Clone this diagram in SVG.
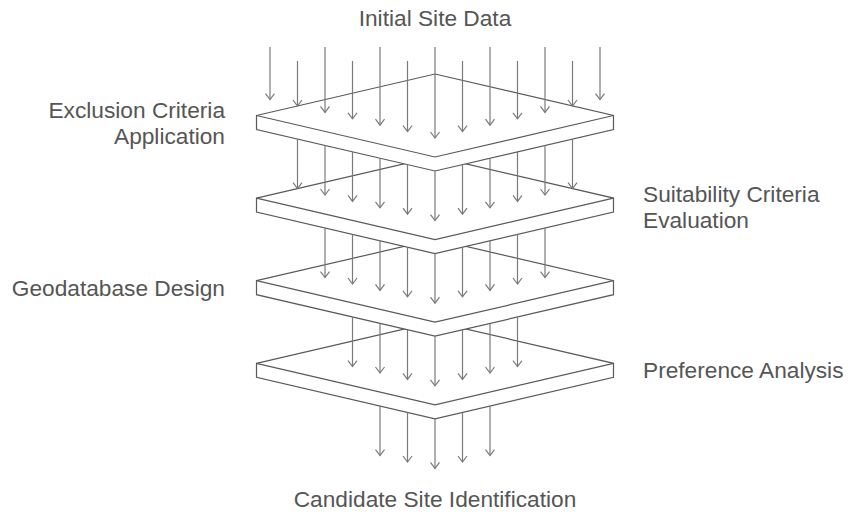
<svg xmlns="http://www.w3.org/2000/svg" width="848" height="512" viewBox="0 0 848 512">
<style>
.plate{fill:#fff;stroke:#5a5a5a;stroke-width:1.2;stroke-linejoin:miter}
.edge{fill:none;stroke:#5a5a5a;stroke-width:1.2}
.arr{stroke:#7a7a7a;stroke-width:1.2;fill:none;marker-end:url(#ah)}
text{font-family:"Liberation Sans",Arial,Helvetica,sans-serif;font-size:22.7px;fill:#555}
</style>
<defs>
<marker id="ah" markerUnits="userSpaceOnUse" markerWidth="12" markerHeight="12" refX="0" refY="0" orient="auto" viewBox="-7 -6 8 12" overflow="visible">
<path d="M-6,-4.5 L0,0 L-6,4.5" fill="none" stroke="#7a7a7a" stroke-width="1.2"/>
</marker>
</defs>
<rect width="848" height="512" fill="#fff"/>
<g id="plate4">
<path class="plate" d="M256.5,363.3 L435,321.8 L613.5,363.3 L613.5,377.3 L435,418.8 L256.5,377.3 Z"/>
<path class="edge" d="M256.5,363.3 L435,404.8 L613.5,363.3"/>
</g>
<g id="plate3">
<path class="plate" d="M256.5,280.7 L435,239.2 L613.5,280.7 L613.5,294.7 L435,336.2 L256.5,294.7 Z"/>
<path class="edge" d="M256.5,280.7 L435,322.2 L613.5,280.7"/>
</g>
<g id="plate2">
<path class="plate" d="M256.5,198.1 L435,156.6 L613.5,198.1 L613.5,212.1 L435,253.6 L256.5,212.1 Z"/>
<path class="edge" d="M256.5,198.1 L435,239.6 L613.5,198.1"/>
</g>
<g id="plate1">
<path class="plate" d="M256.5,115.5 L435,74 L613.5,115.5 L613.5,129.5 L435,171 L256.5,129.5 Z"/>
<path class="edge" d="M256.5,115.5 L435,157 L613.5,115.5"/>
</g>
<g id="connectors">
<line class="arr" x1="270" y1="47" x2="270" y2="99.6"/>
<line class="arr" x1="297.5" y1="61" x2="297.5" y2="106"/>
<line class="arr" x1="325" y1="47" x2="325" y2="112.4"/>
<line class="arr" x1="352.5" y1="61" x2="352.5" y2="118.8"/>
<line class="arr" x1="380" y1="47" x2="380" y2="125.2"/>
<line class="arr" x1="407.5" y1="61" x2="407.5" y2="131.6"/>
<line class="arr" x1="435" y1="47" x2="435" y2="138"/>
<line class="arr" x1="462.5" y1="61" x2="462.5" y2="131.6"/>
<line class="arr" x1="490" y1="47" x2="490" y2="125.2"/>
<line class="arr" x1="517.5" y1="61" x2="517.5" y2="118.8"/>
<line class="arr" x1="545" y1="47" x2="545" y2="112.4"/>
<line class="arr" x1="572.5" y1="61" x2="572.5" y2="106"/>
<line class="arr" x1="600" y1="47" x2="600" y2="99.6"/>

<line class="arr" x1="297.5" y1="139" x2="297.5" y2="188.6"/>
<line class="arr" x1="325" y1="145.4" x2="325" y2="195"/>
<line class="arr" x1="352.5" y1="151.8" x2="352.5" y2="201.4"/>
<line class="arr" x1="380" y1="158.2" x2="380" y2="207.8"/>
<line class="arr" x1="407.5" y1="164.6" x2="407.5" y2="214.2"/>
<line class="arr" x1="435" y1="171" x2="435" y2="220.6"/>
<line class="arr" x1="462.5" y1="164.6" x2="462.5" y2="214.2"/>
<line class="arr" x1="490" y1="158.2" x2="490" y2="207.8"/>
<line class="arr" x1="517.5" y1="151.8" x2="517.5" y2="201.4"/>
<line class="arr" x1="545" y1="145.4" x2="545" y2="195"/>
<line class="arr" x1="572.5" y1="139" x2="572.5" y2="188.6"/>

<line class="arr" x1="325" y1="228" x2="325" y2="277.6"/>
<line class="arr" x1="352.5" y1="234.4" x2="352.5" y2="284"/>
<line class="arr" x1="380" y1="240.8" x2="380" y2="290.4"/>
<line class="arr" x1="407.5" y1="247.2" x2="407.5" y2="296.8"/>
<line class="arr" x1="435" y1="253.6" x2="435" y2="303.2"/>
<line class="arr" x1="462.5" y1="247.2" x2="462.5" y2="296.8"/>
<line class="arr" x1="490" y1="240.8" x2="490" y2="290.4"/>
<line class="arr" x1="517.5" y1="234.4" x2="517.5" y2="284"/>
<line class="arr" x1="545" y1="228" x2="545" y2="277.6"/>

<line class="arr" x1="352.5" y1="317" x2="352.5" y2="366.6"/>
<line class="arr" x1="380" y1="323.4" x2="380" y2="373"/>
<line class="arr" x1="407.5" y1="329.8" x2="407.5" y2="379.4"/>
<line class="arr" x1="435" y1="336.2" x2="435" y2="385.8"/>
<line class="arr" x1="462.5" y1="329.8" x2="462.5" y2="379.4"/>
<line class="arr" x1="490" y1="323.4" x2="490" y2="373"/>
<line class="arr" x1="517.5" y1="317" x2="517.5" y2="366.6"/>

<line class="arr" x1="380" y1="406" x2="380" y2="455.6"/>
<line class="arr" x1="407.5" y1="412.4" x2="407.5" y2="462"/>
<line class="arr" x1="435" y1="418.8" x2="435" y2="468.4"/>
<line class="arr" x1="462.5" y1="412.4" x2="462.5" y2="462"/>
<line class="arr" x1="490" y1="406" x2="490" y2="455.6"/>
</g>
<g id="labels">
<text x="435" y="26" text-anchor="middle">Initial Site Data</text>
<text x="225" y="117.5" text-anchor="end">Exclusion Criteria</text>
<text x="225" y="143.5" text-anchor="end">Application</text>
<text x="643" y="202">Suitability Criteria</text>
<text x="643" y="228">Evaluation</text>
<text x="225" y="296" text-anchor="end">Geodatabase Design</text>
<text x="643" y="378">Preference Analysis</text>
<text x="435" y="507" text-anchor="middle">Candidate Site Identification</text>
</g>
</svg>
